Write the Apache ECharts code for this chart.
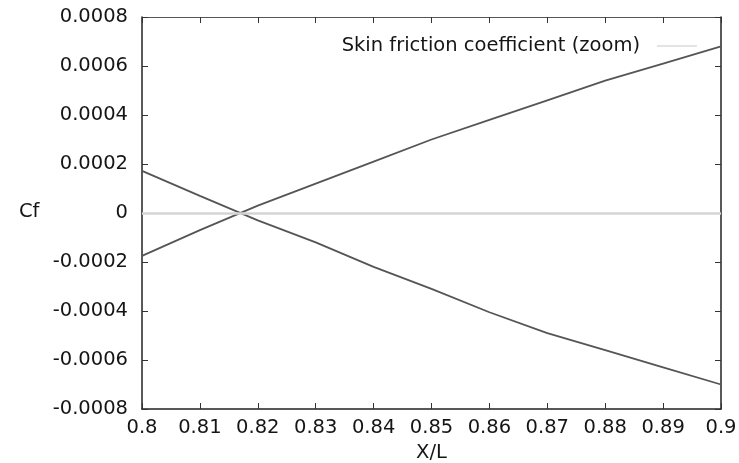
<!DOCTYPE html>
<html>
<head>
<meta charset="utf-8">
<script src="https://cdn.jsdelivr.net/npm/echarts@6/dist/echarts.min.js"></script>
<style>
html,body{margin:0;padding:0;background:#fff;}
#chart{width:739px;height:463px;}
</style>
</head>
<body>
<div id="chart"></div>
<script>
var xValues = [0.80, 0.81, 0.82, 0.83, 0.84, 0.85, 0.86, 0.87, 0.88, 0.89, 0.90];
var cfRising = [-0.000175, -0.00007, 0.00003, 0.00012, 0.00021, 0.0003, 0.00038, 0.00046, 0.00054, 0.00061, 0.00068];
var cfFalling = [0.000172, 0.00007, -0.00003, -0.00012, -0.00022, -0.00031, -0.000405, -0.00049, -0.00056, -0.00063, -0.0007];
var xTicks = [0.8, 0.81, 0.82, 0.83, 0.84, 0.85, 0.86, 0.87, 0.88, 0.89, 0.9];
var yTicks = [-0.0008, -0.0006, -0.0004, -0.0002, 0, 0.0002, 0.0004, 0.0006, 0.0008];
var seriesName = 'Skin friction coefficient (zoom)';

function pairs(xs, ys) { return xs.map(function (x, i) { return [x, ys[i]]; }); }
var FONT = 'DejaVu Sans, sans-serif';
var FS = 19.5;
function fmtX(v) { return String(Math.round(v * 100) / 100); }
function fmtY(v) { var r = Math.round(v * 10000) / 10000; return r === 0 ? '0' : r.toFixed(4); }

var chart = echarts.init(document.getElementById('chart'), null, {renderer: 'canvas'});
var axisLine = {show: true, onZero: false, lineStyle: {color: '#222', width: 1.5}};
var tickIn = {show: true, inside: true, length: 6, lineStyle: {color: '#333', width: 1}};
chart.setOption({
  animation: false,
  backgroundColor: '#fff',
  grid: {left: 142, right: 18, top: 17, bottom: 54, containLabel: false, outerBoundsMode: 'none'},
  legend: {
    data: [{name: seriesName, itemStyle: {color: '#c8c8c8'}, lineStyle: {color: '#c8c8c8', width: 2}}],
    right: 37, top: 31, align: 'right', itemWidth: 40, itemHeight: 10, itemGap: 10,
    icon: 'path://M0,5L40,5L40,6L0,6Z',
    textStyle: {fontFamily: FONT, fontSize: FS, color: '#151515', padding: [0, 12, 0, 0]}
  },
  graphic: [{type: 'text', left: 19, top: 202, style: {text: 'Cf', font: FS + 'px ' + FONT, fill: '#151515'}}],
  xAxis: [{
    type: 'value', min: 0.8, max: 0.9, interval: 0.01, position: 'bottom',
    name: 'X/L', nameLocation: 'middle', nameGap: 28,
    nameTextStyle: {fontFamily: FONT, fontSize: FS, color: '#151515'},
    axisLine: axisLine, axisTick: tickIn, splitLine: {show: false},
    axisLabel: {formatter: fmtX, fontFamily: FONT, fontSize: FS, color: '#151515', margin: 9}
  }, {
    type: 'value', min: 0.8, max: 0.9, interval: 0.01, position: 'top',
    axisLine: {show: true, onZero: false, lineStyle: {color: '#555', width: 1}}, axisTick: tickIn,
    splitLine: {show: false}, axisLabel: {show: false}
  }],
  yAxis: [{
    type: 'value', min: -0.0008, max: 0.0008, interval: 0.0002, position: 'left',
    axisLine: axisLine, axisTick: tickIn, splitLine: {show: false},
    axisLabel: {formatter: fmtY, fontFamily: FONT, fontSize: FS, color: '#151515', margin: 14}
  }, {
    type: 'value', min: -0.0008, max: 0.0008, interval: 0.0002, position: 'right',
    axisLine: axisLine, axisTick: tickIn, splitLine: {show: false}, axisLabel: {show: false}
  }],
  series: [{
    name: seriesName, type: 'line', data: pairs(xValues, cfRising), showSymbol: false,
    lineStyle: {color: '#555', width: 1.8}, itemStyle: {color: '#555'},
    markLine: {silent: true, symbol: ['none', 'none'], label: {show: false},
      lineStyle: {color: '#d4d4d4', width: 2.5, type: 'solid'}, data: [{yAxis: 0}]},
    z: 3
  }, {
    name: seriesName, type: 'line', data: pairs(xValues, cfFalling), showSymbol: false,
    lineStyle: {color: '#555', width: 1.8}, itemStyle: {color: '#555'}, z: 3
  }]
});
</script>
</body>
</html>
